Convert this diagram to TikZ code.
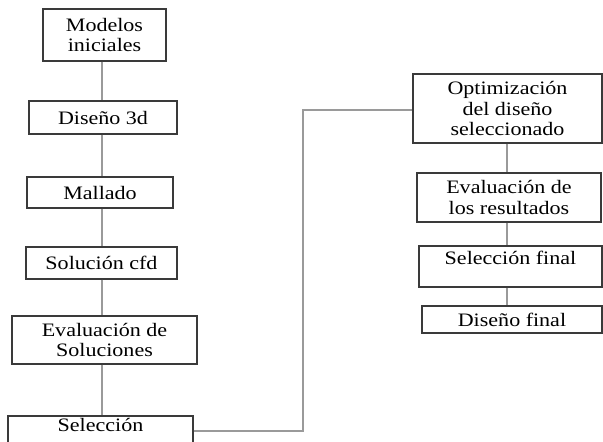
\documentclass[tikz,border=0pt]{standalone}
\usepackage{fontspec}
\setmainfont{Liberation Serif}[FakeStretch=1.16]
\usepackage{tikz}
\usetikzlibrary{positioning}
\definecolor{boxline}{HTML}{3A3A3A}
\definecolor{linkline}{HTML}{9A9A9A}
\tikzset{
  paso/.style={draw=boxline, line width=1.1pt, align=center, inner sep=0pt,
    font=\fontsize{19}{20.5}\selectfont},
  enlace/.style={draw=linkline, line width=1.1pt}
}

\begin{document}
\begin{tikzpicture}[x=1pt,y=-1pt]
						\useasboundingbox (0,0) rectangle (603,442);
						% Columna izquierda
						\node[paso, minimum width=123pt, minimum height=52pt] (init) at (104.5,35) {Modelos\\iniciales};
						\node[paso, minimum width=148pt, minimum height=33pt] (dis3d) at (103,117.5) {Diseño 3d};
						\node[paso, minimum width=146pt, minimum height=31pt] (malla) at (100,192.5) {Mallado};
						\node[paso, minimum width=151pt, minimum height=32pt] (solcfd) at (101.5,263) {Solución cfd};
						\node[paso, minimum width=185pt, minimum height=48pt] (evsol) at (104.5,340) {Evaluación de\\Soluciones};
						\node[paso, minimum width=185pt, minimum height=40pt, text depth=22pt] (selec) at (100.5,436) {Selección};
						% Columna derecha
						\node[paso, minimum width=189pt, minimum height=69pt] (opt) at (507.5,108.5) {Optimización\\del diseño\\seleccionado};
						\node[paso, minimum width=184pt, minimum height=49pt] (evres) at (509,197.5) {Evaluación de\\los resultados};
						\node[paso, minimum width=183pt, minimum height=41pt, text depth=18pt] (selfin) at (510.5,266.5) {Selección final};
						\node[paso, minimum width=180pt, minimum height=27pt] (disfin) at (512,319.5) {Diseño final};
						% Enlaces
						\coordinate (lx) at (102,0);
						\foreach \a/\b in {init/dis3d,dis3d/malla,malla/solcfd,solcfd/evsol,evsol/selec}{
							\draw[enlace] (lx |- \a.south) -- (lx |- \b.north);
						}
						\coordinate (rx) at (507,0);
						\foreach \a/\b in {opt/evres,evres/selfin,selfin/disfin}{
							\draw[enlace] (rx |- \a.south) -- (rx |- \b.north);
						}
						\coordinate (codo) at (303,431);
						\draw[enlace] (selec.east |- codo) -- (codo) |- (opt.west |- 0,110);
%						\draw[enlace] (selec) -- (opt);
					\end{tikzpicture}
\end{document}
